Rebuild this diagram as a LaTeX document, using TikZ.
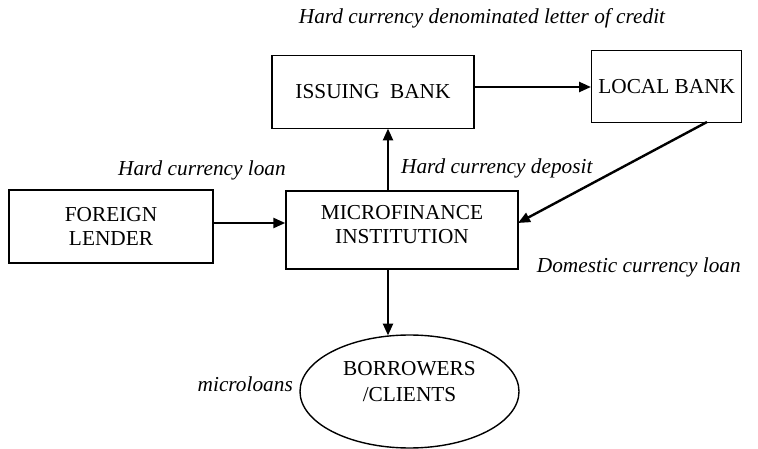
\documentclass[tikz,border=0pt]{standalone}
\usepackage{fontspec}
\setmainfont{Liberation Serif}
\usetikzlibrary{arrows.meta,shapes.geometric}
\begin{document}
\begin{tikzpicture}[x=1pt,y=-1pt,
  box/.style={draw,line width=1.4pt,font=\fontsize{21.3}{24.5}\selectfont,align=center,inner sep=0pt},
  lbl/.style={font=\fontsize{21.3}{24}\selectfont\itshape,inner sep=0pt},
  flow/.style={line width=2.4pt,-{Triangle[length=12pt,width=10pt]}}]
\useasboundingbox (0,0) rectangle (758,449);
\node[box,minimum width=202pt,minimum height=73pt] (issue) at (373,92) {ISSUING\ \ BANK};
\node[box,minimum width=150pt,minimum height=72pt,anchor=north west] (local) at (591,50) {LOCAL BANK};
\node[box,minimum width=204pt,minimum height=73pt] (lender) at (111,226.5) {FOREIGN\\LENDER};
\node[box,minimum width=232pt,minimum height=78pt,text depth=11pt] (mfi) at (402,230) {MICROFINANCE\\INSTITUTION};
\node[draw,ellipse,line width=1.4pt,minimum width=219pt,minimum height=113pt,inner sep=0pt,align=center,text depth=20pt,font=\fontsize{21.3}{26}\selectfont] (borr) at (409.5,391.5) {BORROWERS\\/CLIENTS};
\node[lbl] (l1) at (482,18) {Hard currency denominated letter of credit};
\node[lbl] (l2) at (202,170) {Hard currency loan};
\node[lbl,anchor=west] (l3) at (401,168) {Hard currency deposit};
\node[lbl,anchor=east] (l4) at (741,267) {Domestic currency loan};
\node[lbl,anchor=east] (l5) at (293,384) {microloans};
\coordinate (mfitop) at (388,191);
\coordinate (issbot) at (388,128.5);
\coordinate (locbot) at (707,122);
\coordinate (mfiright) at (518,223);
\coordinate (mfibot) at (388,269);
\coordinate (borrtop) at (388,335.5);
\draw[flow] (issue.east |- 0,87) -- (local.west |- 0,87);
\draw[flow] (lender.east |- 0,223) -- (mfi.west |- 0,223);
\draw[flow] (mfitop) -- (issbot);
\draw[flow] (locbot) -- (mfiright);
\draw[flow] (mfibot) -- (borrtop);
\end{tikzpicture}
\end{document}
